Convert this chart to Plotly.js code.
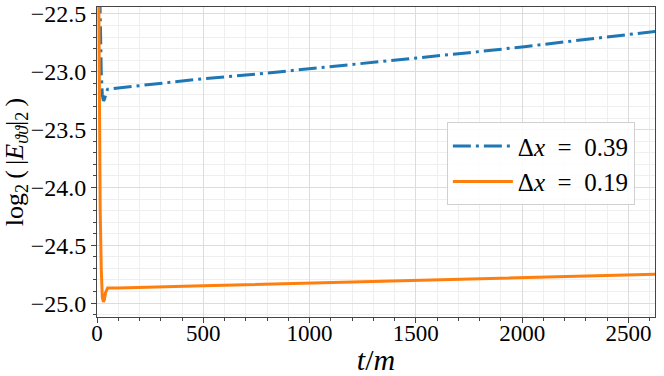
<!DOCTYPE html>
<html>
<head>
<meta charset="utf-8">
<script src="https://cdn.plot.ly/plotly-3.0.1.min.js"></script>
<style>
  body { margin: 0; background: #fff; }
  #plot { width: 664px; height: 376px; }
</style>
</head>
<body>
<div id="plot"></div>
<script>
// coarse run, dx = 0.39
const tCoarse = [0, 5, 10, 15, 20, 25, 30, 35, 40, 45, 50, 60, 100, 250, 500, 750, 1000, 1250, 1500, 1750, 2000, 2250, 2500, 2630];
const errCoarse = [-21.0, -21.5, -22.0, -22.6, -23.0, -23.2, -23.25, -23.24, -23.2, -23.17, -23.15, -23.15, -23.14, -23.11, -23.06, -23.02, -22.975, -22.93, -22.88, -22.835, -22.785, -22.73, -22.675, -22.65];

// fine run, dx = 0.19
const tFine = [0, 5, 10, 15, 20, 25, 30, 35, 40, 45, 50, 60, 100, 500, 1000, 1500, 2000, 2500, 2630];
const errFine = [-20.0, -21.5, -23.0, -24.2, -24.7, -24.95, -24.99, -24.97, -24.91, -24.88, -24.87, -24.87, -24.87, -24.85, -24.825, -24.8, -24.78, -24.755, -24.75];

const names = ['Δ<i>x</i>\u2002=\u20020.39', 'Δ<i>x</i>\u2002=\u20020.19'];
const xTicks = [0, 500, 1000, 1500, 2000, 2500];
const yTicks = [-25.0, -24.5, -24.0, -23.5, -23.0, -22.5];

const serif = 'Liberation Serif, DejaVu Serif, serif';

const traces = [
    {
        x: tCoarse, y: errCoarse, name: names[0],
        type: 'scatter', mode: 'lines',
        line: { color: '#1f77b4', width: 3, dash: '18px,5px,3px,5px' }
    },
    {
        x: tFine, y: errFine, name: names[1],
        type: 'scatter', mode: 'lines',
        line: { color: '#ff7f0e', width: 3 }
    }
];

const layout = {
    width: 664, height: 376,
    margin: { l: 97, r: 9, t: 7, b: 59 },
    paper_bgcolor: '#fff', plot_bgcolor: '#fff',
    font: { family: serif, size: 22, color: '#000' },
    showlegend: true,
    legend: {
        x: 0.627, y: 0.628, xanchor: 'left', yanchor: 'top',
        bgcolor: 'rgba(255,255,255,0.85)', bordercolor: '#d0d0d0', borderwidth: 1,
        font: { family: serif, size: 25 },
        itemwidth: 60,
        tracegroupgap: 4
    },
    xaxis: {
        range: [0, 2625],
        tickvals: xTicks,
        ticks: 'outside', ticklen: 5, tickcolor: '#444',
        ticklabelstandoff: -10,
        showline: true, linecolor: '#444', linewidth: 1, mirror: true,
        showgrid: true, gridcolor: '#dcdcdc', gridwidth: 1,
        zeroline: false,
        tickfont: { size: 23 },
        minor: { dtick: 100, ticks: 'outside', ticklen: 3, tickcolor: '#444', showgrid: true, gridcolor: '#efefef' },
        title: { text: '<i>t</i>/<i>m</i>', font: { size: 30 }, standoff: 0 }
    },
    yaxis: {
        range: [-25.12, -22.44],
        tickvals: yTicks,
        tickformat: '.1f',
        ticks: 'outside', ticklen: 5, tickcolor: '#444',
        showline: true, linecolor: '#444', linewidth: 1, mirror: true,
        showgrid: true, gridcolor: '#dcdcdc', gridwidth: 1,
        zeroline: false,
        tickfont: { size: 24 },
        minor: { dtick: 0.1, ticks: 'outside', ticklen: 3, tickcolor: '#444', showgrid: true, gridcolor: '#efefef' },
        title: { text: 'log<sub>2</sub>\u2009(\u2009|<i>E</i><sub><i>ϑϑ</i></sub>|<sub>2</sub>\u2009)', font: { size: 26 }, standoff: 4 }
    }
};

Plotly.newPlot('plot', traces, layout, { displayModeBar: false, staticPlot: true });
</script>
</body>
</html>
